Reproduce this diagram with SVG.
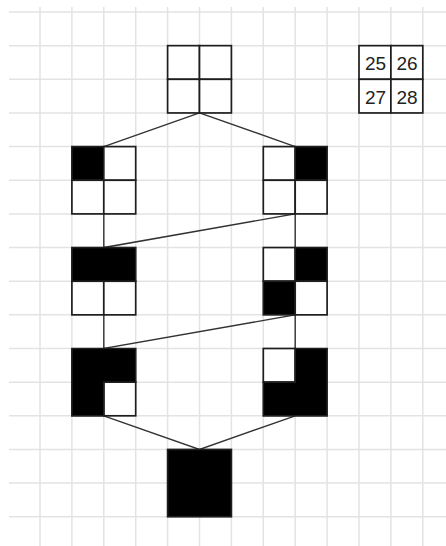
<svg xmlns="http://www.w3.org/2000/svg" width="446" height="546" viewBox="0 0 446 546">
<style>
.g{stroke:#e3e3e3;stroke-width:1.5;fill:none}
.c{stroke:#1e1e1e;stroke-width:1.7}
.w{fill:#fff}
.b{fill:#000}
.k{stroke:#333;stroke-width:1.4;fill:none}
.t{font-family:"Liberation Sans",Arial,sans-serif;font-size:19px;fill:#222;text-anchor:middle}
</style>
<rect width="446" height="546" fill="#fff"/>
<g id="grid" class="g">
<path d="M40,7V546M71.9,7V546M103.8,7V546M135.7,7V546M167.6,7V546M199.5,7V546M231.4,7V546M263.3,7V546M295.2,7V546M327.1,7V546M359,7V546M390.9,7V546M422.8,7V546"/>
<path d="M9,12H446M9,45.65H446M9,79.3H446M9,112.95H446M9,146.6H446M9,180.25H446M9,213.9H446M9,247.55H446M9,281.2H446M9,314.85H446M9,348.5H446M9,382.15H446M9,415.8H446M9,449.45H446M9,483.1H446M9,516.75H446"/>
</g>
<g id="connectors" class="k">
<path d="M199.5,112.95L103.8,146.6M199.5,112.95L295.2,146.6"/>
<path d="M103.8,213.9V247.55L295.2,213.9V247.55"/>
<path d="M103.8,314.85V348.5L295.2,314.85V348.5"/>
<path d="M103.8,415.8L199.5,449.45L295.2,415.8"/>
</g>
<g id="top" class="c">
<rect class="w" x="167.6" y="45.65" width="31.9" height="33.65"/>
<rect class="w" x="199.5" y="45.65" width="31.9" height="33.65"/>
<rect class="w" x="167.6" y="79.3" width="31.9" height="33.65"/>
<rect class="w" x="199.5" y="79.3" width="31.9" height="33.65"/>
</g>
<g id="legend">
<g class="c">
<rect class="w" x="359" y="45.65" width="31.9" height="33.65"/>
<rect class="w" x="390.9" y="45.65" width="31.9" height="33.65"/>
<rect class="w" x="359" y="79.3" width="31.9" height="33.65"/>
<rect class="w" x="390.9" y="79.3" width="31.9" height="33.65"/>
</g>
<text class="t" x="375.5" y="69.5">25</text>
<text class="t" x="407" y="69.5">26</text>
<text class="t" x="375.5" y="104">27</text>
<text class="t" x="407" y="104">28</text>
</g>
<g id="left1" class="c">
<rect class="b" x="71.9" y="146.6" width="31.9" height="33.65"/>
<rect class="w" x="103.8" y="146.6" width="31.9" height="33.65"/>
<rect class="w" x="71.9" y="180.25" width="31.9" height="33.65"/>
<rect class="w" x="103.8" y="180.25" width="31.9" height="33.65"/>
</g>
<g id="right1" class="c">
<rect class="w" x="263.3" y="146.6" width="31.9" height="33.65"/>
<rect class="b" x="295.2" y="146.6" width="31.9" height="33.65"/>
<rect class="w" x="263.3" y="180.25" width="31.9" height="33.65"/>
<rect class="w" x="295.2" y="180.25" width="31.9" height="33.65"/>
</g>
<g id="left2" class="c">
<rect class="w" x="71.9" y="281.2" width="31.9" height="33.65"/>
<rect class="w" x="103.8" y="281.2" width="31.9" height="33.65"/>
<rect class="b" x="71.9" y="247.55" width="63.8" height="33.65"/>
</g>
<g id="right2" class="c">
<rect class="w" x="263.3" y="247.55" width="31.9" height="33.65"/>
<rect class="b" x="295.2" y="247.55" width="31.9" height="33.65"/>
<rect class="b" x="263.3" y="281.2" width="31.9" height="33.65"/>
<rect class="w" x="295.2" y="281.2" width="31.9" height="33.65"/>
</g>
<g id="left3" class="c">
<rect class="w" x="103.8" y="382.15" width="31.9" height="33.65"/>
<path class="b" d="M71.9,348.5H135.7V382.15H103.8V415.8H71.9Z"/>
</g>
<g id="right3" class="c">
<rect class="w" x="263.3" y="348.5" width="31.9" height="33.65"/>
<path class="b" d="M295.2,348.5H327.1V415.8H263.3V382.15H295.2Z"/>
</g>
<g id="bottom" class="c">
<rect class="b" x="167.6" y="449.45" width="63.8" height="67.3"/>
</g>
</svg>
